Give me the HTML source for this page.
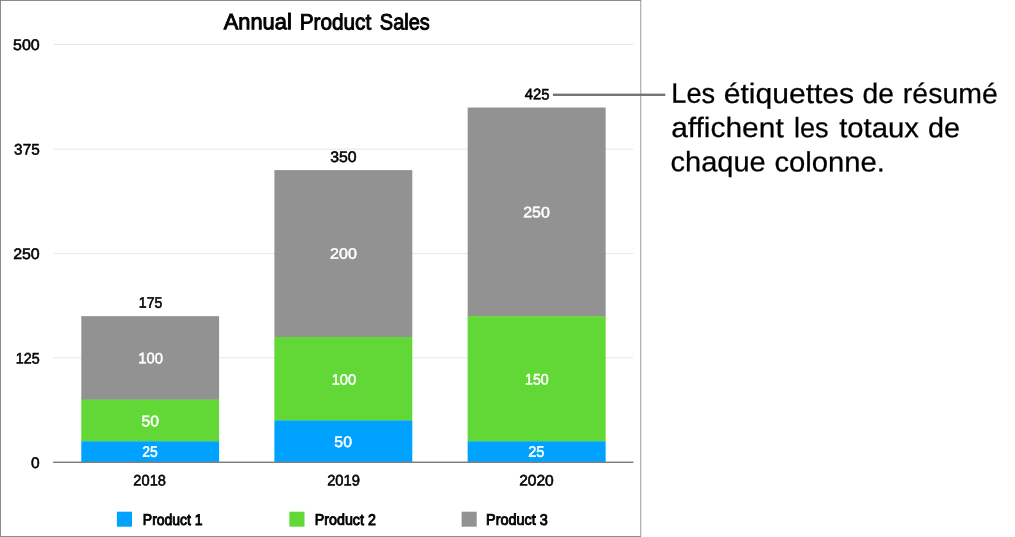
<!DOCTYPE html>
<html lang="fr">
<head>
<meta charset="utf-8">
<title>Annual Product Sales</title>
<style>
html,body{margin:0;padding:0;background:#fff;}
body{width:1015px;height:537px;overflow:hidden;position:relative;}
svg{position:absolute;left:0;top:0;display:block;}
text{font-family:"Liberation Sans",sans-serif;text-rendering:geometricPrecision;}
.ax{font-size:15.2px;fill:#000;stroke:#000;stroke-width:.55px;}
.in{font-size:15.2px;fill:#fff;stroke:#fff;stroke-width:.5px;}
.lg{font-size:15.5px;fill:#000;stroke:#000;stroke-width:.9px;}
.ti{font-size:22.3px;fill:#000;stroke:#000;stroke-width:.95px;}
.ca{font-size:28px;fill:#000;stroke:#000;stroke-width:.25px;}
</style>
</head>
<body>
<svg width="1015" height="537" viewBox="0 0 1015 537">
  <rect x="0" y="0" width="1015" height="537" fill="#fff"/>
  <!-- chart frame -->
  <rect x="640" y="0" width="1" height="536" fill="#b5b6b8"/>
  <rect x="641" y="0" width="1" height="536" fill="#e3e4e4"/>
  <rect x="0" y="0" width="641" height="1" fill="#8b8c8f"/>
  <rect x="0" y="0" width="1" height="537" fill="#8b8c8f"/>
  <rect x="0" y="536" width="641" height="1" fill="#8b8c8f"/>
  <rect x="0" y="0" width="1" height="1" fill="#77787b"/>
  <!-- gridlines -->
  <g fill="#e7e7e7">
    <rect x="53.7" y="44" width="579.6" height="1"/>
    <rect x="53.7" y="148.65" width="579.6" height="1"/>
    <rect x="53.7" y="252.95" width="579.6" height="1"/>
    <rect x="53.7" y="357.25" width="579.6" height="1"/>
  </g>
  <!-- bars -->
  <g>
    <rect x="81.3" y="316.16" width="137.8" height="83.75" fill="#929292"/>
    <rect x="81.3" y="399.61" width="137.8" height="42.02" fill="#61d836"/>
    <rect x="81.3" y="441.34" width="137.8" height="21.16" fill="#00a2ff"/>
    <rect x="274.4" y="170.12" width="137.9" height="167.20" fill="#929292"/>
    <rect x="274.4" y="337.02" width="137.9" height="83.75" fill="#61d836"/>
    <rect x="274.4" y="420.47" width="137.9" height="42.03" fill="#00a2ff"/>
    <rect x="467.65" y="107.54" width="138" height="208.93" fill="#929292"/>
    <rect x="467.65" y="316.16" width="138" height="125.47" fill="#61d836"/>
    <rect x="467.65" y="441.34" width="138" height="21.16" fill="#00a2ff"/>
  </g>
  <!-- axis -->
  <rect x="53" y="461.55" width="580.4" height="1.45" fill="#7f7f7f"/>
  <text class="ax" x="13.12" y="49.96" textLength="26.61" lengthAdjust="spacingAndGlyphs" transform="rotate(0.05 26.6 45.0)">500</text>
  <text class="ax" x="14.13" y="154.44" textLength="25.53" lengthAdjust="spacingAndGlyphs" transform="rotate(0.05 26.8 149.2)">375</text>
  <text class="ax" x="13.16" y="258.93" textLength="26.57" lengthAdjust="spacingAndGlyphs" transform="rotate(0.05 26.6 253.7)">250</text>
  <text class="ax" x="15.77" y="363.43" textLength="23.84" lengthAdjust="spacingAndGlyphs" transform="rotate(0.05 27.8 358.2)">125</text>
  <text class="ax" x="31.10" y="467.93" textLength="8.61" lengthAdjust="spacingAndGlyphs" transform="rotate(0.05 35.5 462.6)">0</text>
  <text class="ax" x="138.83" y="307.70" textLength="23.46" lengthAdjust="spacingAndGlyphs" transform="rotate(0.05 150.7 302.6)">175</text>
  <text class="ax" x="330.19" y="161.96" textLength="26.35" lengthAdjust="spacingAndGlyphs" transform="rotate(0.05 343.4 156.8)">350</text>
  <text class="ax" x="524.67" y="99.38" textLength="24.80" lengthAdjust="spacingAndGlyphs" transform="rotate(0.05 536.6 94.2)">425</text>
  <text class="in" x="138.22" y="363.39" textLength="24.66" lengthAdjust="spacingAndGlyphs" transform="rotate(0.05 150.9 358.1)">100</text>
  <text class="in" x="141.41" y="426.16" textLength="17.48" lengthAdjust="spacingAndGlyphs" transform="rotate(0.05 150.2 421.0)">50</text>
  <text class="in" x="142.18" y="456.65" textLength="15.53" lengthAdjust="spacingAndGlyphs" transform="rotate(0.05 149.9 451.5)">25</text>
  <text class="in" x="330.14" y="258.84" textLength="26.65" lengthAdjust="spacingAndGlyphs" transform="rotate(0.05 343.4 253.8)">200</text>
  <text class="in" x="331.71" y="384.66" textLength="24.53" lengthAdjust="spacingAndGlyphs" transform="rotate(0.05 344.1 379.5)">100</text>
  <text class="in" x="334.37" y="446.92" textLength="17.57" lengthAdjust="spacingAndGlyphs" transform="rotate(0.05 343.3 441.9)">50</text>
  <text class="in" x="523.25" y="217.39" textLength="26.64" lengthAdjust="spacingAndGlyphs" transform="rotate(0.05 536.6 212.1)">250</text>
  <text class="in" x="525.07" y="384.41" textLength="23.68" lengthAdjust="spacingAndGlyphs" transform="rotate(0.05 537.2 379.1)">150</text>
  <text class="in" x="528.18" y="456.66" textLength="16.26" lengthAdjust="spacingAndGlyphs" transform="rotate(0.05 536.2 451.5)">25</text>
  <text class="ax" x="133.37" y="485.62" textLength="32.58" lengthAdjust="spacingAndGlyphs" transform="rotate(0.05 149.8 480.3)">2018</text>
  <text class="ax" x="327.16" y="485.62" textLength="32.76" lengthAdjust="spacingAndGlyphs" transform="rotate(0.05 343.4 480.3)">2019</text>
  <text class="ax" x="519.21" y="485.63" textLength="34.57" lengthAdjust="spacingAndGlyphs" transform="rotate(0.05 536.5 480.4)">2020</text>
  <text class="lg" x="142.82" y="524.90" textLength="59.85" lengthAdjust="spacingAndGlyphs" transform="rotate(0.05 172.8 519.4)">Product 1</text>
  <text class="lg" x="314.85" y="524.88" textLength="60.98" lengthAdjust="spacingAndGlyphs" transform="rotate(0.05 345.4 519.4)">Product 2</text>
  <text class="lg" x="486.14" y="524.87" textLength="61.67" lengthAdjust="spacingAndGlyphs" transform="rotate(0.05 517.2 519.4)">Product 3</text>
  <text class="ti" y="29.42" transform="rotate(0.05 326.4 21.4)"><tspan x="223.68" textLength="68.10" lengthAdjust="spacingAndGlyphs">Annual</tspan> <tspan x="299.69" textLength="71.48" lengthAdjust="spacingAndGlyphs">Product</tspan> <tspan x="379.85" textLength="50.00" lengthAdjust="spacingAndGlyphs">Sales</tspan></text>
  <text class="ca" y="103.00" transform="rotate(0.05 834.9 96.0)"><tspan x="671.32" textLength="43.89" lengthAdjust="spacingAndGlyphs">Les</tspan> <tspan x="723.67" textLength="130.50" lengthAdjust="spacingAndGlyphs">étiquettes</tspan> <tspan x="862.63" textLength="31.47" lengthAdjust="spacingAndGlyphs">de</tspan> <tspan x="902.88" textLength="94.85" lengthAdjust="spacingAndGlyphs">résumé</tspan></text>
  <text class="ca" y="137.20" transform="rotate(0.05 815.5 130.2)"><tspan x="671.17" textLength="112.56" lengthAdjust="spacingAndGlyphs">affichent</tspan> <tspan x="793.92" textLength="34.64" lengthAdjust="spacingAndGlyphs">les</tspan> <tspan x="839.20" textLength="79.85" lengthAdjust="spacingAndGlyphs">totaux</tspan> <tspan x="927.93" textLength="32.02" lengthAdjust="spacingAndGlyphs">de</tspan></text>
  <text class="ca" y="171.40" transform="rotate(0.05 777.1 164.4)"><tspan x="670.57" textLength="95.16" lengthAdjust="spacingAndGlyphs">chaque</tspan> <tspan x="774.40" textLength="110.63" lengthAdjust="spacingAndGlyphs">colonne.</tspan></text>
  <!-- legend -->
  <rect x="116.9" y="511.7" width="15.1" height="15" fill="#00a2ff"/>
  <rect x="289.4" y="511.7" width="15.1" height="15" fill="#61d836"/>
  <rect x="461.6" y="511.7" width="15.1" height="15" fill="#929292"/>
  <!-- callout -->
  <rect x="552.9" y="93.6" width="112.4" height="2.4" fill="#767676"/>
</svg>
</body>
</html>
